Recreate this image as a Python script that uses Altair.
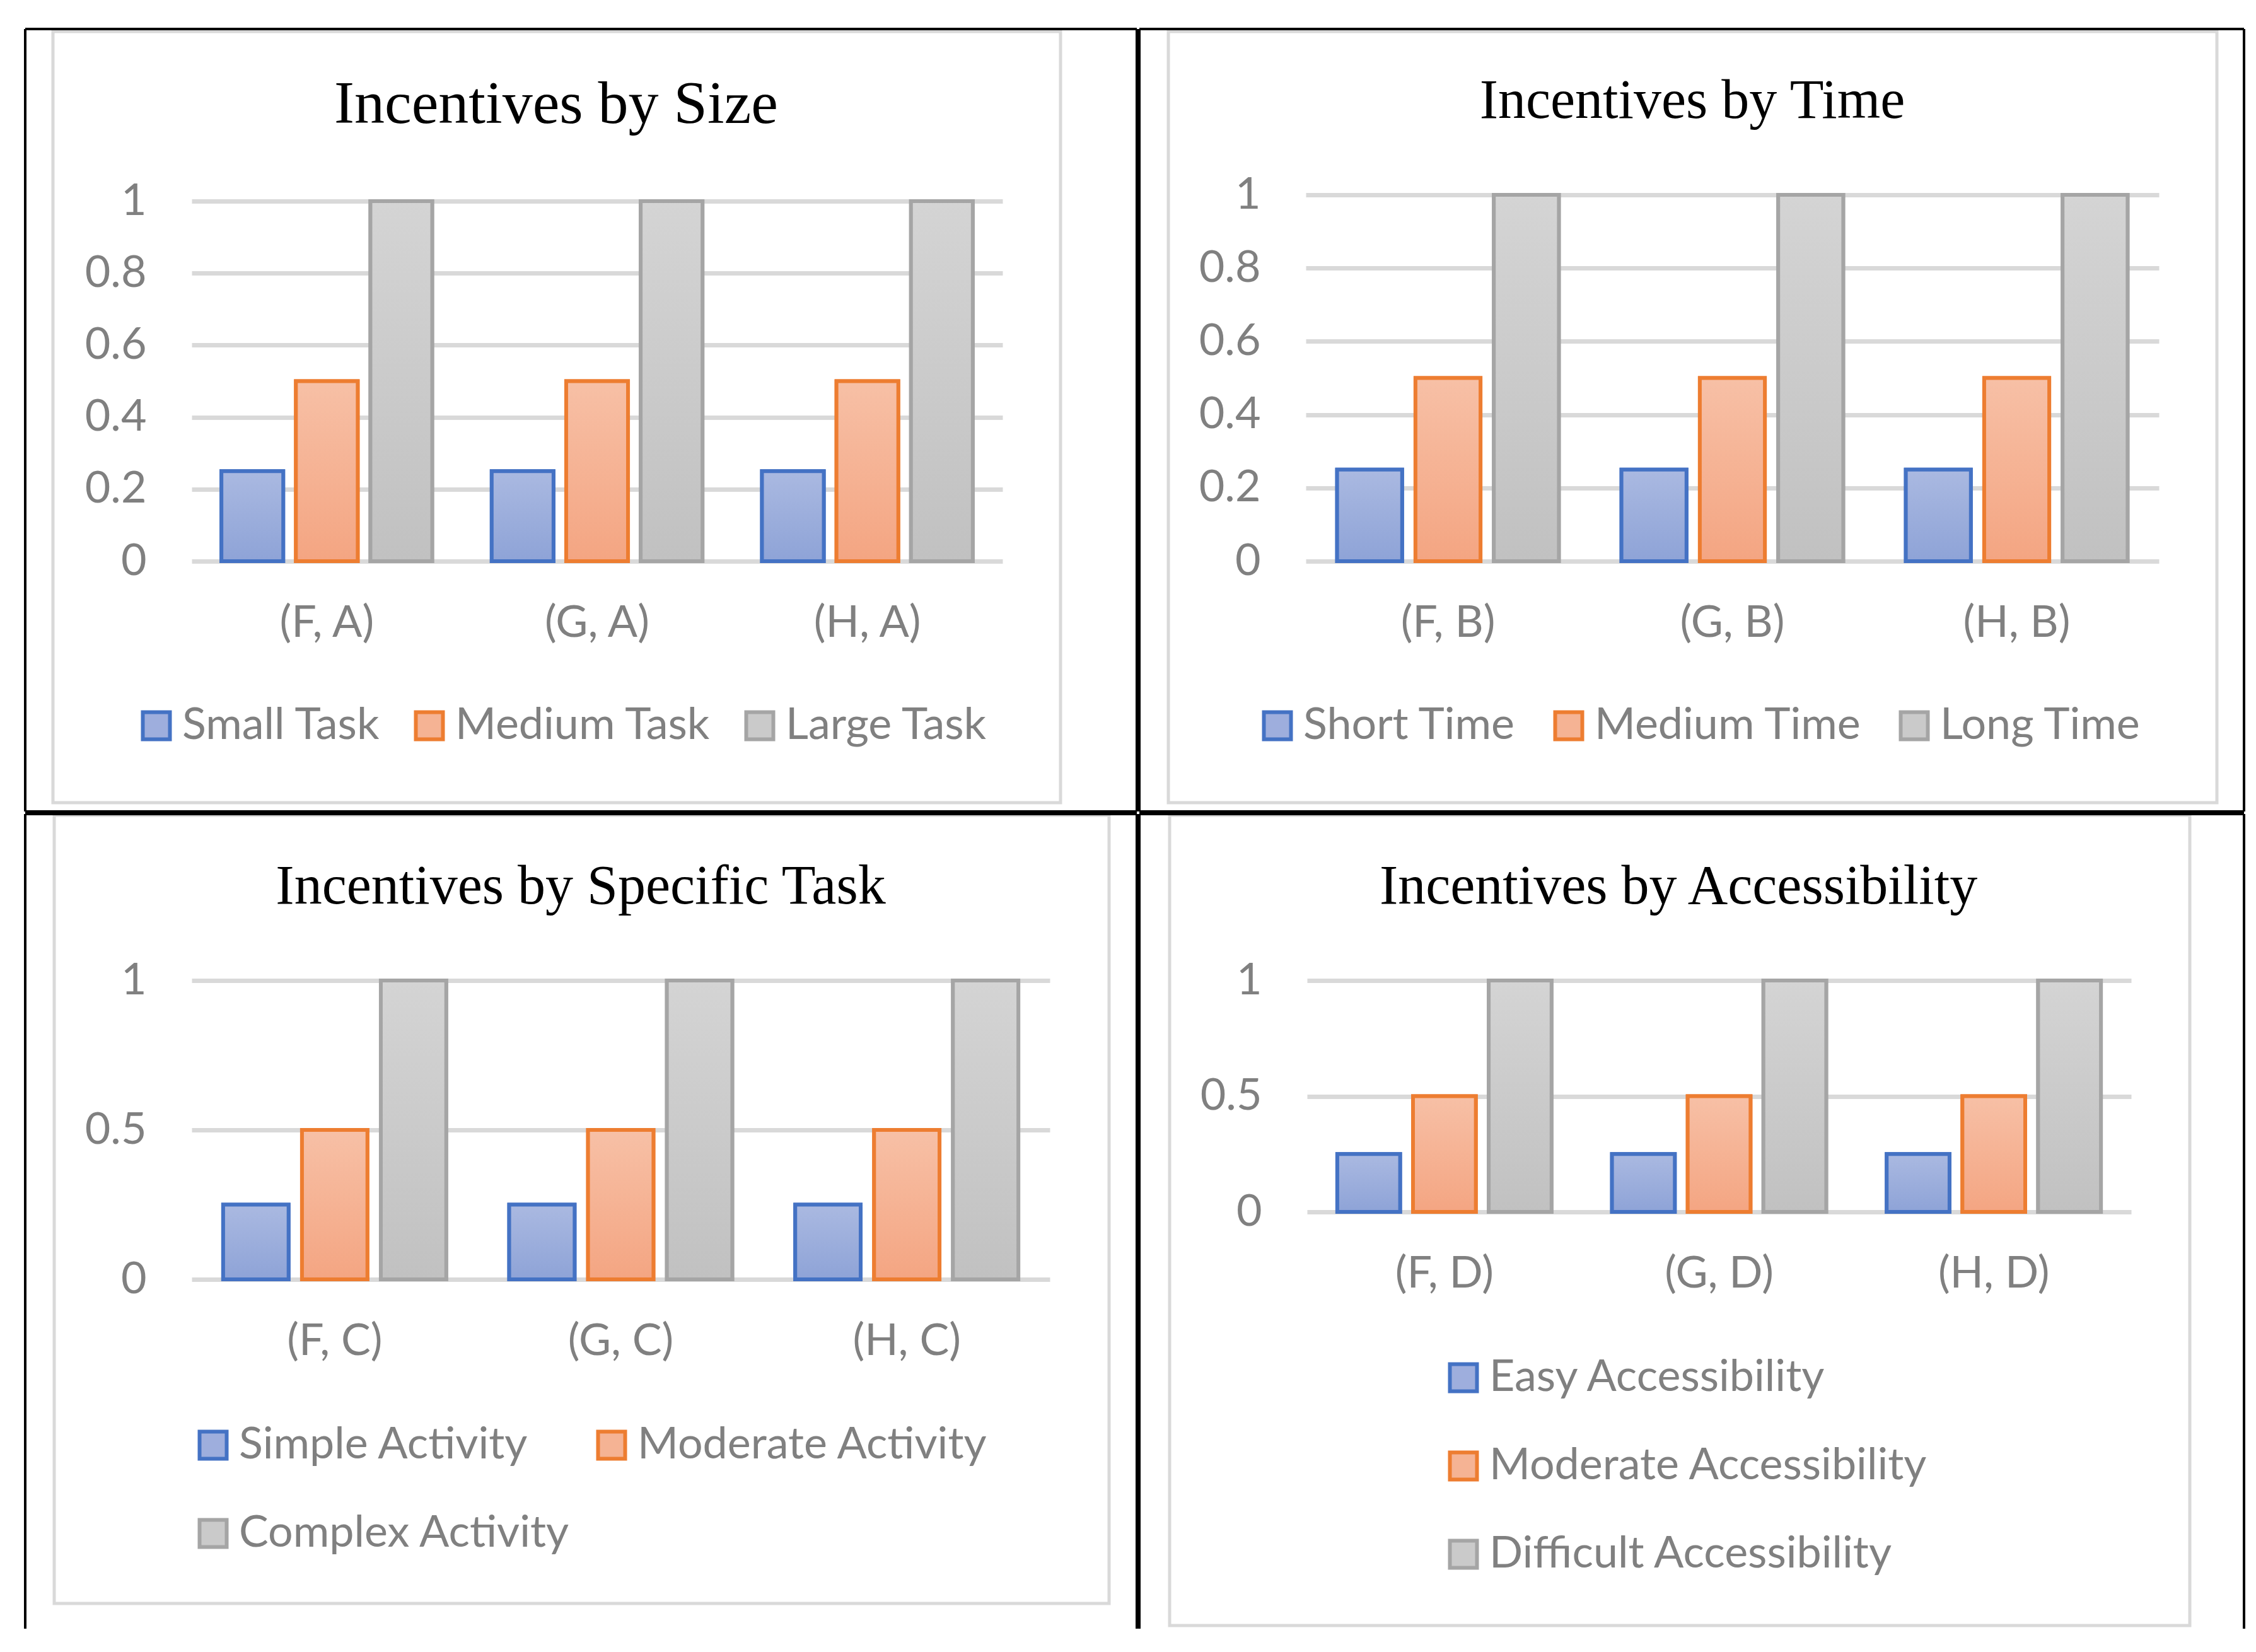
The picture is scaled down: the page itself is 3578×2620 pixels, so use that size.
import altair as alt
import pandas as pd

# ---------------- data ----------------
size_categories = ["(F, A)", "(G, A)", "(H, A)"]
size_series = ["Small Task", "Medium Task", "Large Task"]
size_small = [0.25, 0.25, 0.25]
size_medium = [0.5, 0.5, 0.5]
size_large = [1.0, 1.0, 1.0]

time_categories = ["(F, B)", "(G, B)", "(H, B)"]
time_series = ["Short Time", "Medium Time", "Long Time"]
time_short = [0.25, 0.25, 0.25]
time_medium = [0.5, 0.5, 0.5]
time_long = [1.0, 1.0, 1.0]

task_categories = ["(F, C)", "(G, C)", "(H, C)"]
task_series = ["Simple Activity", "Moderate Activity", "Complex Activity"]
task_simple = [0.25, 0.25, 0.25]
task_moderate = [0.5, 0.5, 0.5]
task_complex = [1.0, 1.0, 1.0]

acc_categories = ["(F, D)", "(G, D)", "(H, D)"]
acc_series = ["Easy Accessibility", "Moderate Accessibility", "Difficult Accessibility"]
acc_easy = [0.25, 0.25, 0.25]
acc_moderate = [0.5, 0.5, 0.5]
acc_difficult = [1.0, 1.0, 1.0]

ticks_fine = [0, 0.2, 0.4, 0.6, 0.8, 1]
ticks_coarse = [0, 0.5, 1]

# ---------------- styles ----------------
STROKES = ["#4472c4", "#ed7d31", "#a5a5a5"]
FLAT = ["#9eaedd", "#f5b394", "#cacaca"]
GRAD = [("#aab9e1", "#8ea3d7"), ("#f7c0a6", "#f4a582"), ("#d4d4d4", "#c1c1c1")]
LABEL_FONT = "Lato"
LABEL_SIZE = 70
LABEL_COLOR = "#808080"

# w/h: plot area; ytop: extra pixels the top of the y range sits above the view
LAYOUT = {
    "size": dict(w=1286, h=571, ytop=0, box=(-220, 92, -269, 383), cell=(-264, 213, -273, 397),
                 bottom_line=True, title=(578, -124), title_size=96, leg=(-91, 797, 3), colpad=42),
    "time": dict(w=1353, h=571, ytop=10, box=(-218, 92, -269, 383), cell=(-264, 135, -273, 397),
                 bottom_line=True, title=(613, -132), title_size=88, leg=(-80, 797, 3), colpad=48),
    "task": dict(w=1361, h=474, ytop=0, box=(-218, 94, -262, 514), cell=(-264, 138, -264, 554),
                 bottom_line=False, title=(617, -122), title_size=88, leg=(-1, 702, 2), colpad=30),
    "access": dict(w=1307, h=367, ytop=0, box=(-218, 93, -262, 656), cell=(-266, 179, -264, 661),
                   bottom_line=False, title=(589, -122), title_size=88, leg=(213, 595, 1), colpad=44),
}

one = pd.DataFrame({"k": [0]})


def panel(title, categories, series, value_lists, ticks, lay):
    w, h = lay["w"], lay["h"]
    rows = []
    for s, vals in zip(series, value_lists):
        for c, v in zip(categories, vals):
            rows.append({"cat": c, "ser": s, "val": v})
    df = pd.DataFrame(rows)
    base = alt.Chart(df)

    x = alt.X("cat:N", sort=categories,
              scale=alt.Scale(domain=categories, paddingInner=0.22, paddingOuter=0.11),
              axis=alt.Axis(title=None, labelAngle=0, domain=False, ticks=False, tickSize=0,
                            grid=False, labelPadding=64, labelFont=LABEL_FONT,
                            labelFontSize=LABEL_SIZE, labelColor=LABEL_COLOR, labelLimit=3000))
    xo = alt.XOffset("ser:N", sort=series,
                     scale=alt.Scale(domain=series, paddingInner=0.17, paddingOuter=0))
    y = alt.Y("val:Q", scale=alt.Scale(domain=[0, 1], nice=False, zero=True,
                                       range=[h, -lay["ytop"]]),
              axis=alt.Axis(title=None, values=ticks, format="~g", grid=True,
                            gridColor="#d9d9d9", gridWidth=7, domain=False, ticks=False,
                            tickSize=0, labelPadding=72, labelFont=LABEL_FONT,
                            labelFontSize=LABEL_SIZE, labelColor=LABEL_COLOR))

    lx, ly, ncol = lay["leg"]
    legend = alt.Legend(title=None, orient="none", legendX=lx, legendY=ly,
                        direction="horizontal" if ncol > 1 else "vertical", columns=ncol,
                        labelFont=LABEL_FONT, labelFontSize=LABEL_SIZE, labelColor=LABEL_COLOR,
                        symbolType="square", symbolSize=1849, symbolStrokeWidth=6,
                        labelOffset=6, columnPadding=lay["colpad"], rowPadding=70,
                        labelLimit=3000, padding=0, symbolOpacity=1)

    bars = base.mark_bar(strokeWidth=6).encode(
        x=x, xOffset=xo, y=y,
        fill=alt.Fill("ser:N", scale=alt.Scale(domain=series, range=FLAT), legend=legend),
        stroke=alt.Stroke("ser:N", scale=alt.Scale(domain=series, range=STROKES), legend=legend),
    )
    overlays = []
    for i, s in enumerate(series):
        grad = alt.Gradient(gradient="linear",
                            stops=[alt.GradientStop(color=GRAD[i][0], offset=0),
                                   alt.GradientStop(color=GRAD[i][1], offset=1)],
                            x1=0, x2=0, y1=0, y2=1)
        overlays.append(
            base.transform_filter(alt.datum.ser == s)
            .mark_bar(fill=grad, stroke=STROKES[i], strokeWidth=6)
            .encode(x=x, xOffset=xo, y=y)
        )

    bx1, bx2, by1, by2 = lay["box"]
    box = alt.Chart(one).mark_rect(fillOpacity=0, stroke="#d9d9d9", strokeWidth=5).encode(
        x=alt.value(bx1), x2=alt.value(w + bx2), y=alt.value(by1), y2=alt.value(h + by2))

    cx1, cx2, cy1, cy2 = lay["cell"]
    L, R, T, B = cx1, w + cx2, cy1, h + cy2
    line = alt.Chart(one).mark_rule(color="black", strokeWidth=4)
    lines = [
        line.encode(x=alt.value(L), x2=alt.value(R), y=alt.value(T)),
        line.encode(x=alt.value(L), y=alt.value(T), y2=alt.value(B)),
        line.encode(x=alt.value(R), y=alt.value(T), y2=alt.value(B)),
    ]
    if lay["bottom_line"]:
        lines.append(line.encode(x=alt.value(L), x2=alt.value(R), y=alt.value(B)))

    tx, ty = lay["title"]
    ttl = alt.Chart(one).mark_text(font="Liberation Serif", fontSize=lay["title_size"],
                                   color="black", align="center", baseline="alphabetic").encode(
        x=alt.value(tx), y=alt.value(ty), text=alt.value(title))

    return alt.layer(box, *lines, bars, *overlays, ttl).properties(width=w, height=h)


p_size = panel("Incentives by Size", size_categories, size_series,
               [size_small, size_medium, size_large], ticks_fine, LAYOUT["size"])
p_time = panel("Incentives by Time", time_categories, time_series,
               [time_short, time_medium, time_long], ticks_fine, LAYOUT["time"])
p_task = panel("Incentives by Specific Task", task_categories, task_series,
               [task_simple, task_moderate, task_complex], ticks_coarse, LAYOUT["task"])
p_acc = panel("Incentives by Accessibility", acc_categories, acc_series,
              [acc_easy, acc_moderate, acc_difficult], ticks_coarse, LAYOUT["access"])

indep = dict(x="independent", y="independent", xOffset="independent",
             fill="independent", stroke="independent")

top = alt.hconcat(p_size, p_time, spacing=0).resolve_scale(**indep).resolve_legend(
    fill="independent", stroke="independent")
bottom = alt.hconcat(p_task, p_acc, spacing=0).resolve_scale(**indep).resolve_legend(
    fill="independent", stroke="independent")

chart = (
    alt.vconcat(top, bottom, spacing=0)
    .resolve_scale(**indep)
    .resolve_legend(fill="independent", stroke="independent")
    .properties(padding={"left": 30, "top": 36, "right": 5, "bottom": 5})
    .configure(background="white")
    .configure_view(strokeWidth=0)
)

chart.save("out.html", embed_options={"renderer": "svg", "actions": False})
